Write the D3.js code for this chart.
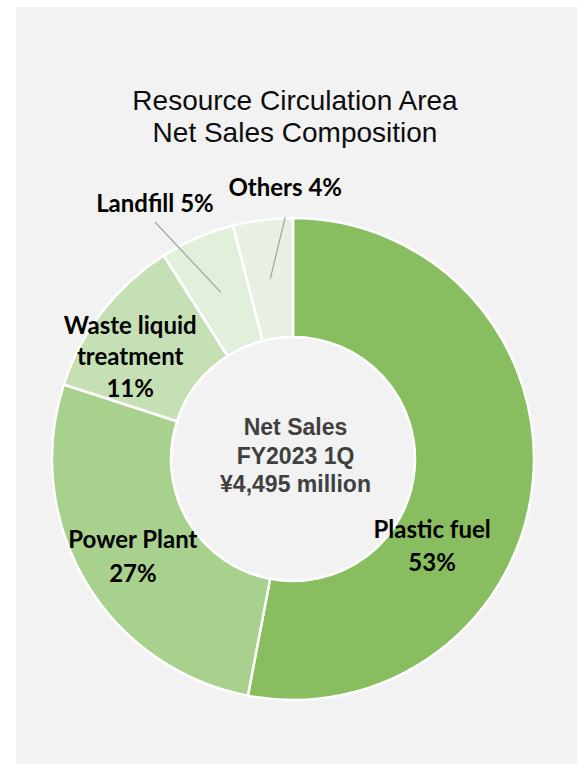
<!DOCTYPE html>
<html>
<head>
<meta charset="utf-8">
<script src="https://cdn.jsdelivr.net/npm/d3@7"></script>
<style>
  body { margin: 0; background: #ffffff; }
  #chart { width: 577px; height: 764px; }
</style>
</head>
<body>
<div id="chart"></div>
<script>
// data
var categories = ["Plastic fuel", "Power Plant", "Waste liquid treatment", "Landfill", "Others"];
var shares = [53, 27, 11, 5, 4];
var colors = ["#88BE5F", "#A9D18E", "#C5E0B4", "#E2EFDA", "#E8F0E4"];
var labelLines = [["Plastic fuel", "53%"], ["Power Plant", "27%"], ["Waste liquid", "treatment", "11%"], ["Landfill 5%"], ["Others 4%"]];
var titleLines = ["Resource Circulation Area", "Net Sales Composition"];
var centerLines = ["Net Sales", "FY2023 1Q", "\u00A54,495 million"];

var width = 577, height = 764;
var cx = 293, cy = 459;
var outerR = 241, innerR = 122;

// label placement: angle (deg, clockwise from top), radius, leader gap below baseline
var labelPos = [
  { a: 124.6, r: 169, lh: 33, lead: 0 },
  { a: 236.5, r: 192, lh: 34, lead: 0 },
  { a: 300.0, r: 188, lh: 31.5, lead: 0 },
  { a: 330.8, r: 283, lh: 0, lead: 10 },
  { a: 358.3, r: 263, lh: 0, lead: 21 }
];

var svg = d3.select("#chart").append("svg")
  .attr("width", width)
  .attr("height", height);

// panel
svg.append("rect")
  .attr("x", 16).attr("y", 7)
  .attr("width", width - 16).attr("height", height - 7)
  .style("fill", "#F2F2F2");

// title
svg.append("text")
  .attr("x", 295).attr("y", 110)
  .style("text-anchor", "middle")
  .style("font-family", "Liberation Sans, Arial, sans-serif")
  .style("font-size", "28px")
  .style("fill", "#0D0D0D")
  .selectAll("tspan")
  .data(titleLines)
  .enter().append("tspan")
  .attr("x", 295)
  .attr("dy", function(d, i) { return i === 0 ? 0 : 31.5; })
  .text(function(d) { return d; });

var g = svg.append("g")
  .attr("transform", "translate(" + cx + "," + cy + ")");

var pie = d3.pie().sort(null).value(function(d) { return d; });
var arcs = pie(shares);

var arc = d3.arc().innerRadius(innerR).outerRadius(outerR);

g.selectAll("path.slice")
  .data(arcs)
  .enter().append("path")
  .attr("class", "slice")
  .attr("d", arc)
  .style("fill", function(d, i) { return colors[i]; })
  .style("stroke", "#ffffff")
  .style("stroke-width", "2.5px");

function polar(a, r) {
  var rad = a * Math.PI / 180;
  return [r * Math.sin(rad), -r * Math.cos(rad)];
}

// leader lines from slice centroid up to the label
arcs.forEach(function(d, i) {
  if (!labelPos[i].lead) return;
  var c = arc.centroid(d);
  var p = polar(labelPos[i].a, labelPos[i].r);
  g.append("line")
    .attr("x1", c[0]).attr("y1", c[1])
    .attr("x2", p[0]).attr("y2", p[1] + labelPos[i].lead)
    .style("stroke", "#A6A6A6")
    .style("stroke-width", "1.3px");
});

// slice labels
labelLines.forEach(function(lines, i) {
  var p = polar(labelPos[i].a, labelPos[i].r);
  var lh = labelPos[i].lh;
  var t = g.append("text")
    .style("text-anchor", "middle")
    .style("font-family", "Lato, Carlito, Calibri, sans-serif")
    .style("font-weight", "bold")
    .style("font-size", "24px")
    .style("fill", "#000000");
  lines.forEach(function(s, j) {
    t.append("tspan")
      .attr("x", p[0])
      .attr("y", p[1] + (j - (lines.length - 1) / 2) * lh)
      .text(s);
  });
});

// center text
var ct = g.append("text")
  .style("text-anchor", "middle")
  .style("font-family", "Liberation Sans, Arial, sans-serif")
  .style("font-weight", "bold")
  .style("font-size", "23px")
  .style("fill", "#404040");
centerLines.forEach(function(s, j) {
  ct.append("tspan")
    .attr("x", 2.5)
    .attr("y", -24 + j * 28.5)
    .text(s);
});
</script>
</body>
</html>
